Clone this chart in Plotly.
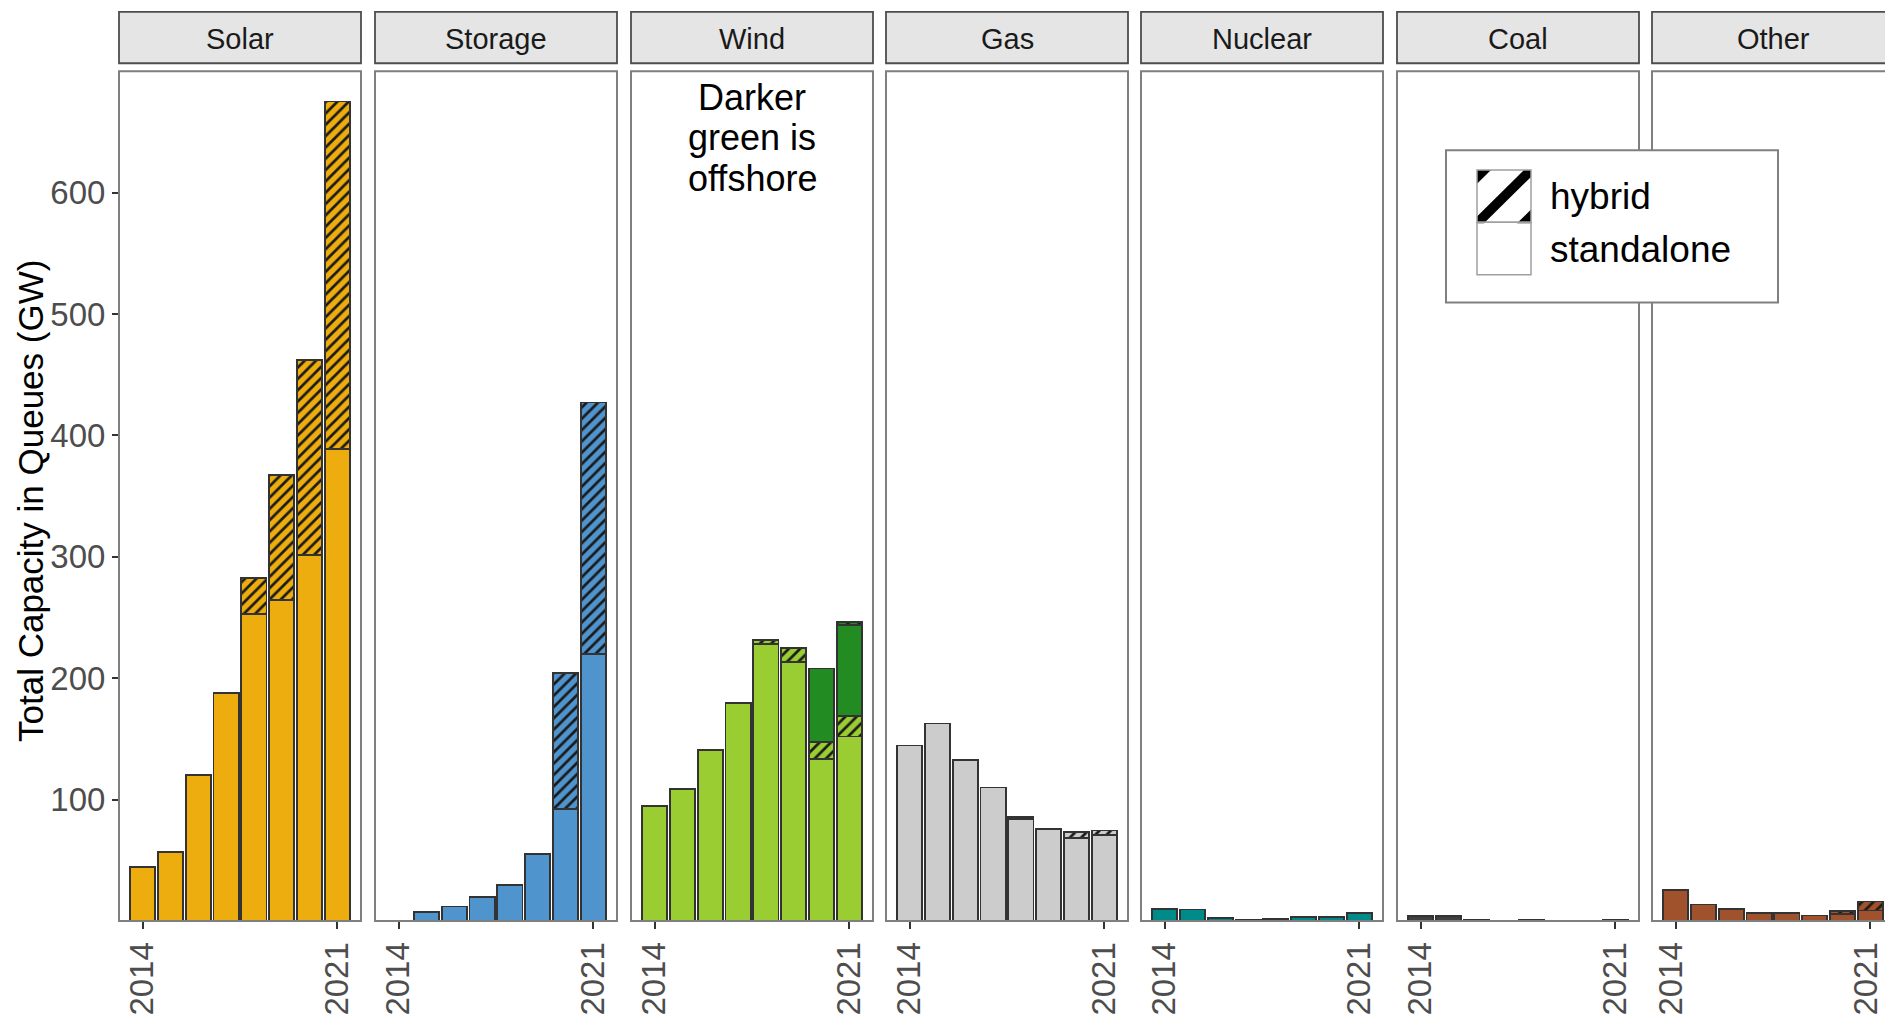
import plotly.graph_objects as go

W, H = 1885, 1016

# ---------------- data (GW in interconnection queues) ----------------
years = [2014, 2015, 2016, 2017, 2018, 2019, 2020, 2021]
techs = ["Solar", "Storage", "Wind", "Gas", "Nuclear", "Coal", "Other"]
y_ticks = [100, 200, 300, 400, 500, 600]
x_ticks = [2014, 2021]

solar_standalone = [44.4, 56.6, 120.3, 188.0, 253.0, 264.7, 301.3, 389.0]
solar_hybrid = [None, None, None, None, 29.4, 102.8, 160.7, 286.0]
storage_standalone = [None, 7.3, 11.9, 19.5, 29.5, 55.3, 92.4, 219.8]
storage_hybrid = [None, None, None, None, None, None, 111.9, 207.2]
wind_onshore_standalone = [95.0, 109.0, 140.8, 179.3, 228.4, 213.0, 133.4, 152.0]
wind_onshore_hybrid = [None, None, None, None, 3.2, 11.6, 13.9, 16.7]
wind_offshore_standalone = [None, None, None, None, None, None, 60.7, 75.0]
wind_offshore_hybrid = [None, None, None, None, None, None, None, 2.3]
gas_standalone = [144.6, 162.7, 132.9, 110.0, 84.0, 76.0, 68.3, 70.5]
gas_hybrid = [None, None, None, None, 1.4, None, 4.9, 4.1]
nuclear_standalone = [10.0, 9.5, 2.2, 0.5, 1.8, 3.5, 3.5, 6.5]
coal_standalone = [4.0, 4.0, 0.6, None, 0.6, None, None, 0.6]
other_standalone = [25.5, 13.6, 10.0, 6.8, 6.8, 4.6, 6.0, 8.7]
other_hybrid = [None, None, None, None, None, None, 2.1, 7.3]

colors = {
    "Solar": "#EEAD0E",
    "Storage": "#4F94CD",
    "Wind": "#9ACD32",
    "Offshore": "#228B22",
    "Gas": "#CCCCCC",
    "Nuclear": "#008B8B",
    "Coal": "#404040",
    "Other": "#A0522D",
}

# series per panel: (values, colour, is_hybrid)
panels = {
    "Solar": [(solar_standalone, colors["Solar"], False), (solar_hybrid, colors["Solar"], True)],
    "Storage": [(storage_standalone, colors["Storage"], False), (storage_hybrid, colors["Storage"], True)],
    "Wind": [(wind_onshore_standalone, colors["Wind"], False), (wind_onshore_hybrid, colors["Wind"], True),
             (wind_offshore_standalone, colors["Offshore"], False), (wind_offshore_hybrid, colors["Offshore"], True)],
    "Gas": [(gas_standalone, colors["Gas"], False), (gas_hybrid, colors["Gas"], True)],
    "Nuclear": [(nuclear_standalone, colors["Nuclear"], False)],
    "Coal": [(coal_standalone, colors["Coal"], False)],
    "Other": [(other_standalone, colors["Other"], False), (other_hybrid, colors["Other"], True)],
}

# ---------------- layout geometry (pixels) ----------------
FONT = "Liberation Sans, Arial, sans-serif"
panel_left = [119, 375, 631, 886, 1141, 1397, 1652]
panel_w = 242
panel_top, panel_bot = 72, 932
strip_top, strip_bot = 12, 64
x_lo, x_hi = 2013.155, 2021.845
px_per_unit = panel_w / (x_hi - x_lo)


def fx(px):
    return px / W


def fy(py):
    return 1 - py / H


fig = go.Figure()
layout = dict(
    width=W, height=H,
    margin=dict(l=0, r=0, t=0, b=0),
    paper_bgcolor="white", plot_bgcolor="white",
    barmode="stack", bargap=0.1,
    showlegend=False,
    font=dict(family=FONT, color="#4D4D4D"),
)

shapes = []
annotations = []

for i, name in enumerate(techs):
    sx = "" if i == 0 else str(i + 1)
    left = panel_left[i]
    right = min(left + panel_w, W)
    xr = [x_lo, x_lo + (right - left) / px_per_unit]
    xa = dict(
        domain=[fx(left), fx(right)], range=xr, anchor="y" + sx,
        tickvals=x_ticks, ticktext=[str(v) for v in x_ticks], tickangle=-90,
        ticks="outside", ticklen=7, tickwidth=1.5, tickcolor="#333333",
        ticklabeloverflow="allow",
        tickfont=dict(family=FONT, size=33, color="#4D4D4D"),
        showgrid=False, zeroline=False, showline=False, fixedrange=True,
    )
    if right >= W:
        xa["ticklabelshift"] = -4
    layout["xaxis" + sx] = xa
    ya = dict(
        domain=[fy(panel_bot), fy(panel_top)], range=[0, 700], anchor="x" + sx,
        showgrid=False, zeroline=False, showline=False, fixedrange=True,
    )
    if i == 0:
        ya.update(tickvals=y_ticks, ticks="outside", ticklen=6, tickwidth=1.5,
                  tickcolor="#333333", ticklabeloverflow="allow",
                  tickfont=dict(family=FONT, size=33, color="#4D4D4D"))
    else:
        ya.update(matches="y", showticklabels=False, ticks="")
    layout["yaxis" + sx] = ya

    for vals, col, hyb in panels[name]:
        marker = dict(color=col, line=dict(color="#333333", width=1.8))
        if hyb:
            marker["pattern"] = dict(shape="/", fillmode="replace", bgcolor=col,
                                     fgcolor="#1A1A1A", size=8, solidity=0.34)
        fig.add_trace(go.Bar(x=years, y=vals, xaxis="x" + sx, yaxis="y" + sx,
                             marker=marker, hoverinfo="x+y"))

    # panel border
    shapes.append(dict(type="rect", xref="paper", yref="paper", layer="above",
                       x0=fx(left), x1=fx(min(left + panel_w, W + 1)), y0=fy(panel_bot), y1=fy(panel_top),
                       line=dict(color="#7F7F7F", width=2), fillcolor="rgba(0,0,0,0)"))
    # strip
    shapes.append(dict(type="rect", xref="paper", yref="paper", layer="above",
                       x0=fx(left), x1=fx(min(left + panel_w, W + 1)), y0=fy(strip_bot), y1=fy(strip_top),
                       line=dict(color="#4D4D4D", width=1.8), fillcolor="#E5E5E5"))
    annotations.append(dict(xref="paper", yref="paper", x=fx(left + panel_w / 2), y=fy(39.5),
                            text=name, showarrow=False, xanchor="center", yanchor="middle",
                            font=dict(family=FONT, size=29, color="#1A1A1A")))

# wind note
wind_cx = panel_left[2] + panel_w / 2
for txt, cy in [("Darker", 99), ("green is", 139.5), ("offshore", 180.5)]:
    annotations.append(dict(xref="paper", yref="paper", x=fx(wind_cx), y=fy(cy), text=txt,
                            showarrow=False, xanchor="center", yanchor="middle",
                            font=dict(family=FONT, size=36, color="#000000")))

# y-axis title
annotations.append(dict(xref="paper", yref="paper", x=fx(30), y=fy(507),
                        text="Total Capacity in Queues (GW)", textangle=-90, showarrow=False,
                        xanchor="center", yanchor="middle",
                        font=dict(family=FONT, size=35, color="#000000")))

# legend box
shapes.append(dict(type="rect", xref="paper", yref="paper", layer="above",
                   x0=fx(1446), x1=fx(1778), y0=fy(306), y1=fy(152),
                   line=dict(color="#808080", width=2), fillcolor="white"))
kx0, kx1 = 1477, 1531
k1y0, k1y1, k2y1 = 172, 225, 278
s = kx1 - kx0


def path(pts):
    return "M " + " L ".join(f"{fx(kx0 + a)},{fy(k1y0 + b)}" for a, b in pts) + " Z"


for pts in [
    [(0, 0), (14, 0), (0, 14)],
    [(0, s - 7), (s - 7, 0), (s, 0), (s, 7), (7, s), (0, s)],
    [(s, s), (s - 14, s), (s, s - 14)],
]:
    shapes.append(dict(type="path", xref="paper", yref="paper", layer="above",
                       path=path(pts), fillcolor="#000000", line=dict(width=0)))
for y0, y1 in [(k1y0, k1y1), (k1y1, k2y1)]:
    shapes.append(dict(type="rect", xref="paper", yref="paper", layer="above",
                       x0=fx(kx0), x1=fx(kx1), y0=fy(y1), y1=fy(y0),
                       line=dict(color="#A0A0A0", width=1.5), fillcolor="rgba(0,0,0,0)"))
for txt, cy in [("hybrid", 199), ("standalone", 252)]:
    annotations.append(dict(xref="paper", yref="paper", x=fx(1548), y=fy(cy), text=txt,
                            showarrow=False, xanchor="left", yanchor="middle",
                            font=dict(family=FONT, size=37, color="#000000")))

layout["shapes"] = shapes
layout["annotations"] = annotations
fig.update_layout(**layout)

post = (
    "document.documentElement.style.overflow='hidden';"
    "document.body.style.margin='0';document.body.style.overflow='hidden';"
)
fig.write_html("out.html", config={"displayModeBar": False}, post_script=post)
